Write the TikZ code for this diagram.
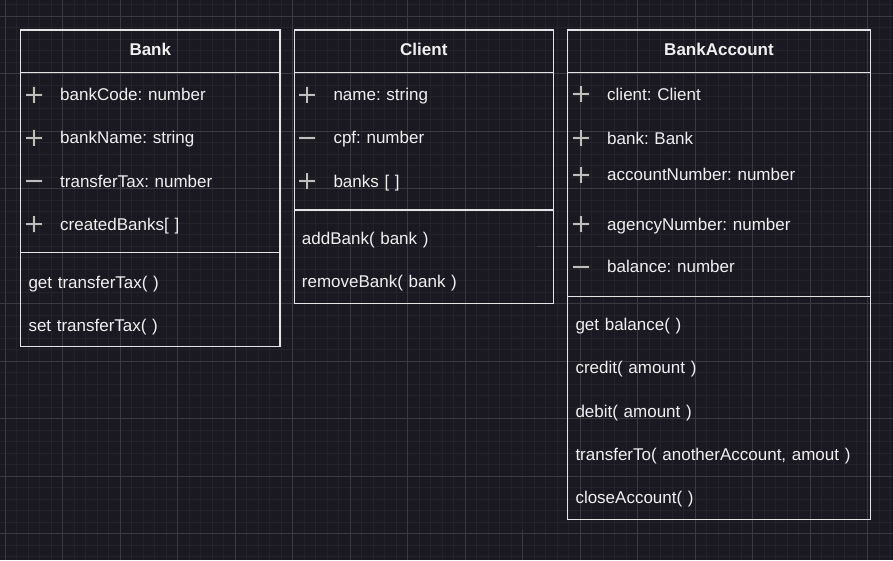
\documentclass[tikz,border=0pt]{standalone}
\usepackage{fontspec}
\setmainfont{Liberation Sans}

\definecolor{canvas}{HTML}{1A1820}
\definecolor{minorline}{HTML}{25232A}
\definecolor{majorline}{HTML}{3B3A41}
\definecolor{framecol}{HTML}{E4E4E4}
\definecolor{ink}{HTML}{F0F0F0}
\definecolor{signcol}{HTML}{BEBEBE}

\tikzset{
  frame/.style={draw=framecol, line width=1.5pt},
  title/.style={font=\fontsize{17}{20}\selectfont\bfseries, text=ink, inner sep=0pt},
  member/.style={font=\fontsize{17}{20}\selectfont\frenchspacing, text=ink, inner sep=0pt,
    text height=13pt, text depth=4pt, text width=300pt, align=left},
  signedge/.style={draw=black!85, line width=3.4pt},
  signline/.style={draw=signcol, line width=1.8pt},
  pub/.pic={
    \draw[signedge] (-8.5,0) -- (8.5,0) (0,-8.5) -- (0,8.5);
    \draw[signline] (-8,0) -- (8,0) (0,-8) -- (0,8);
  },
  priv/.pic={
    \draw[signedge] (-8.5,0) -- (8.5,0);
    \draw[signline] (-8,0) -- (8,0);
  }
}

\begin{document}
\begin{tikzpicture}[x=1pt, y=-1pt, node distance=43.2pt]
    % Canvas and grid
    \fill[canvas] (0,0) rectangle (893,560);
    \useasboundingbox (0,0) rectangle (893,560);
    \foreach \k in {0,...,77}
        \draw[minorline, line width=0.6pt] ({5+11.5*\k},0) -- ++(0,560);
    \foreach \k in {-1,...,47}
        \draw[minorline, line width=0.6pt] (0,{16+11.5*\k}) -- ++(893,0);
    \foreach \k in {0,1,2,3,4,5,6,7,8,10,11,12,13,14,15}
        \draw[majorline, line width=0.8pt] ({5+57.5*\k},0) -- ++(0,560);
    \foreach \k in {0,1,2,3,5,6,7,8,9}
        \draw[majorline, line width=0.8pt] (0,{16+57.5*\k}) -- ++(893,0);
    \draw[majorline, line width=0.8pt] (536.7,246) -- (893,246);
    \draw[majorline, line width=0.8pt] (522.5,530) -- (522.5,560);

    % Bank
    \draw[frame] (20.7,30) rectangle (280,346.5);
    \draw[frame] (20.7,72.7) -- (280,72.7);
    \draw[frame] (20.7,252.7) -- (280,252.7);
    \node (banktitle) [title, anchor=base] at (150.3,55) {Bank};
    \node (bankcode) [member, anchor=west] at (60,96.2) {bankCode: number};
    \node (bankname) [member, below of=bankcode] {bankName: string};
    \node (transfertax) [member, below of=bankname] {transferTax: number};
    \node (createdbanks) [member, below of=transfertax] {createdBanks[ ]};
    \node (gettax) [member, anchor=west] at (28.3,283.6) {get transferTax( )};
    \node (settax) [member, below of=gettax] {set transferTax( )};
    \pic at ([shift={(-26,-1.5)}]bankcode.west) {pub};
    \pic at ([shift={(-26,-1.5)}]bankname.west) {pub};
    \pic at ([shift={(-26,-1.5)}]transfertax.west) {priv};
    \pic at ([shift={(-26,-1.5)}]createdbanks.west) {pub};

    % Client
    \draw[frame] (294.3,30) rectangle (553.3,303.3);
    \draw[frame] (294.3,72.7) -- (553.3,72.7);
    \draw[frame] (294.3,210) -- (553.3,210);
    \node (clienttitle) [title, anchor=base] at (423.8,55) {Client};
    \node (name) [member, anchor=west] at (333.3,96.2) {name: string};
    \node (cpf) [member, below of=name] {cpf: number};
    \node (banks) [member, below of=cpf] {banks [ ]};
    \node (addbank) [member, anchor=west] at (301.7,239.6) {addBank( bank )};
    \node (removebank) [member, below of=addbank] {removeBank( bank )};
    \pic at ([shift={(-26,-1.5)}]name.west) {pub};
    \pic at ([shift={(-26,-1.5)}]cpf.west) {priv};
    \pic at ([shift={(-26,-1.5)}]banks.west) {pub};

    % BankAccount
    \draw[frame] (567.7,30) rectangle (870.3,519.3);
    \draw[frame] (567.7,72.7) -- (870.3,72.7);
    \draw[frame] (567.7,296.3) -- (870.3,296.3);
    \node (accounttitle) [title, anchor=base] at (719,55) {BankAccount};
    \node (client) [member, anchor=west] at (607,95.6) {client: Client};
    \node (bank) [member, below of=client, node distance=44pt] {bank: Bank};
    \node (accountnumber) [member, below of=bank, node distance=36.7pt] {accountNumber: number};
    \node (agencynumber) [member, below of=accountnumber, node distance=49.3pt] {agencyNumber: number};
    \node (balance) [member, below of=agencynumber, node distance=42.7pt] {balance: number};
    \node (getbalance) [member, anchor=west] at (575.3,326.2) {get balance( )};
    \node (credit) [member, below of=getbalance] {credit( amount )};
    \node (debit) [member, below of=credit] {debit( amount )};
    \node (transferto) [member, below of=debit] {transferTo( anotherAccount, amout )};
    \node (closeaccount) [member, below of=transferto] {closeAccount( )};
    \pic at ([shift={(-26,-1.5)}]client.west) {pub};
    \pic at ([shift={(-26,-1.5)}]bank.west) {pub};
    \pic at ([shift={(-26,-1.5)}]accountnumber.west) {pub};
    \pic at ([shift={(-26,-1.5)}]agencynumber.west) {pub};
    \pic at ([shift={(-26,-1.5)}]balance.west) {priv};
\end{tikzpicture}
\end{document}
